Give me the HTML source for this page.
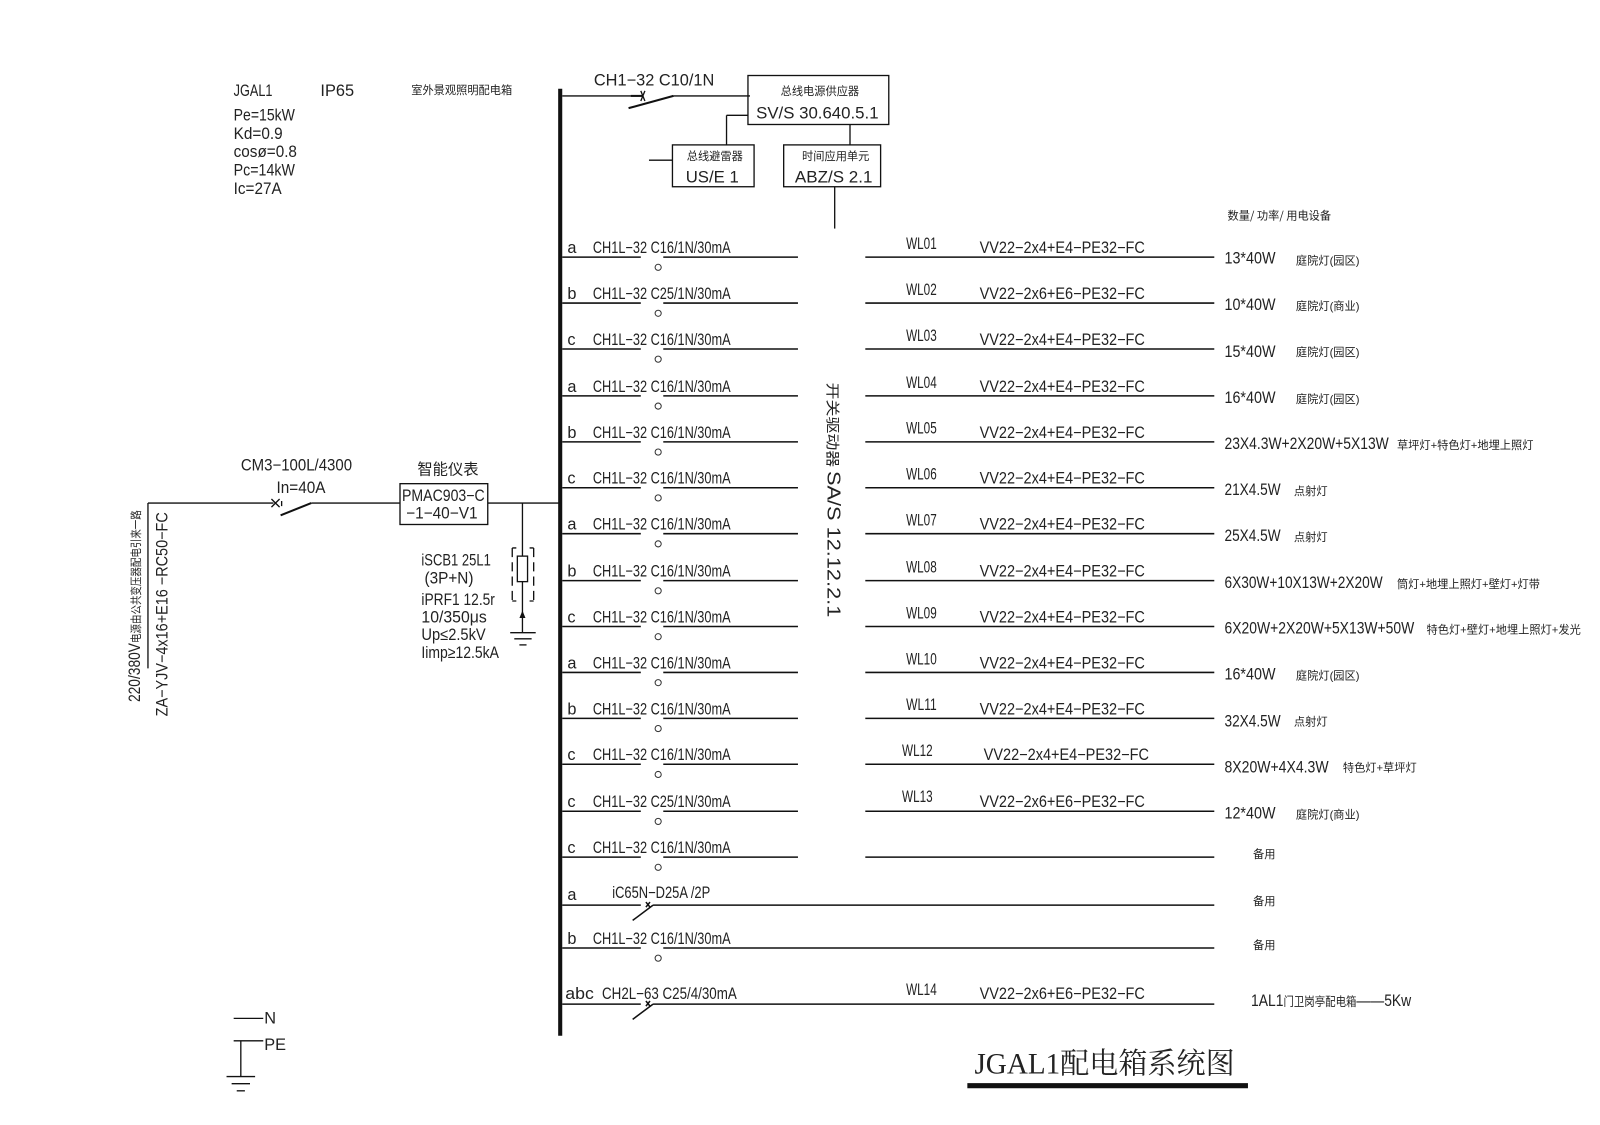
<!DOCTYPE html>
<html><head><meta charset="utf-8"><style>
html,body{margin:0;padding:0;background:#fff;}
svg{display:block}
text{font-family:"Liberation Sans","Noto Sans CJK SC",sans-serif;fill:#222;}
.t{font-size:16px}
.s{font-size:11px;font-family:"Noto Sans CJK SC",sans-serif}
.cj{font-family:"Noto Sans CJK SC",sans-serif}
</style></head><body>
<svg width="1600" height="1125" viewBox="0 0 1568 1102.5" xmlns="http://www.w3.org/2000/svg">
<g stroke="#111" stroke-width="1.3" fill="none">
<line x1="549" y1="87" x2="549" y2="1015" stroke-width="4"/>
<line x1="551" y1="94" x2="618" y2="94"/>
<line x1="618" y1="94" x2="630" y2="94" stroke-width="2"/>
<line x1="628" y1="89" x2="632" y2="99" /><line x1="628" y1="99" x2="632" y2="89"/>
<line x1="616" y1="106" x2="660" y2="94" stroke-width="2"/>
<line x1="660" y1="94" x2="735" y2="94"/>
<rect x="733" y="74" width="138" height="48"/>
<line x1="712" y1="113" x2="733" y2="113"/>
<line x1="712" y1="113" x2="712" y2="142"/>
<rect x="659" y="142" width="80" height="41"/>
<line x1="636" y1="157" x2="659" y2="157"/>
<line x1="833" y1="122" x2="833" y2="142"/>
<rect x="768" y="142" width="95" height="41"/>
<line x1="818" y1="183" x2="818" y2="224"/>
<line x1="145" y1="493" x2="145" y2="655"/>
<line x1="145" y1="493" x2="268" y2="493"/>
<line x1="266" y1="489" x2="274" y2="497"/><line x1="266" y1="497" x2="274" y2="489"/>
<line x1="276" y1="491" x2="276" y2="496"/>
<line x1="275" y1="505" x2="305" y2="493" stroke-width="2"/>
<line x1="305" y1="493" x2="392" y2="493"/>
<rect x="392" y="474" width="86" height="40"/>
<line x1="478" y1="493" x2="549" y2="493"/>
<line x1="512" y1="493" x2="512" y2="620"/>
<rect x="507" y="545" width="10" height="25" fill="#fff"/>
<path d="M510 605 L512 600 L514 605 Z" fill="#111"/>
<path d="M502 537 v52 M523 537 v52" stroke-dasharray="9,5"/>
<path d="M502 537 h4 M519 537 h4 M502 589 h4 M519 589 h4"/>
<line x1="500" y1="620" x2="525" y2="620"/><line x1="504" y1="626" x2="521" y2="626"/><line x1="509" y1="632" x2="516" y2="632"/>
<line x1="229" y1="998" x2="258" y2="998"/>
<line x1="229" y1="1020" x2="258" y2="1020"/>
<line x1="236" y1="1020" x2="236" y2="1055"/>
<line x1="222" y1="1055" x2="250" y2="1055"/><line x1="227" y1="1062" x2="245" y2="1062"/><line x1="232" y1="1069" x2="240" y2="1069"/>
<line x1="948" y1="1064" x2="1223" y2="1064" stroke-width="5"/>
</g>
<g stroke="#111" stroke-width="1.5" fill="none">
<path d="M551 252H628M650 252H782M848 252H1190"/>
<path d="M551 297H628M650 297H782M848 297H1190"/>
<path d="M551 342H628M650 342H782M848 342H1190"/>
<path d="M551 388H628M650 388H782M848 388H1190"/>
<path d="M551 433H628M650 433H782M848 433H1190"/>
<path d="M551 478H628M650 478H782M848 478H1190"/>
<path d="M551 523H628M650 523H782M848 523H1190"/>
<path d="M551 569H628M650 569H782M848 569H1190"/>
<path d="M551 614H628M650 614H782M848 614H1190"/>
<path d="M551 659H628M650 659H782M848 659H1190"/>
<path d="M551 704H628M650 704H782M848 704H1190"/>
<path d="M551 749H628M650 749H782M848 749H1190"/>
<path d="M551 795H628M650 795H782M848 795H1190"/>
<path d="M551 840H628M650 840H782M848 840H1190"/>
<path d="M551 887H628M640 887H1190M620 902L640 887"/>
<path d="M551 929H628M650 929H1190"/>
<path d="M551 984H628M640 984H1190M620 999L640 984"/>
<path d="M633 884l4 5M637 884l-4 5M633 981l4 5M637 981l-4 5"/>
</g>
<g fill="none" stroke="#333" stroke-width="1">
<circle cx="645" cy="262" r="3"/><circle cx="645" cy="307" r="3"/><circle cx="645" cy="352" r="3"/><circle cx="645" cy="398" r="3"/><circle cx="645" cy="443" r="3"/><circle cx="645" cy="488" r="3"/><circle cx="645" cy="533" r="3"/><circle cx="645" cy="579" r="3"/><circle cx="645" cy="624" r="3"/><circle cx="645" cy="669" r="3"/><circle cx="645" cy="714" r="3"/><circle cx="645" cy="759" r="3"/><circle cx="645" cy="805" r="3"/><circle cx="645" cy="850" r="3"/><circle cx="645" cy="939" r="3"/>
</g>
<text x="229" y="94" class="t" textLength="38" lengthAdjust="spacingAndGlyphs">JGAL1</text>
<text x="314" y="94" class="t" textLength="33" lengthAdjust="spacingAndGlyphs">IP65</text>
<text x="403" y="92" class="s" font-size="12">室外景观照明配电箱</text>
<g lengthAdjust="spacingAndGlyphs">
<text x="229" y="118" class="t" textLength="60" lengthAdjust="spacingAndGlyphs">Pe=15kW</text>
<text x="229" y="136" class="t" textLength="48" lengthAdjust="spacingAndGlyphs">Kd=0.9</text>
<text x="229" y="154" class="t" textLength="62" lengthAdjust="spacingAndGlyphs">cosø=0.8</text>
<text x="229" y="172" class="t" textLength="60" lengthAdjust="spacingAndGlyphs">Pc=14kW</text>
<text x="229" y="190" class="t" textLength="47" lengthAdjust="spacingAndGlyphs">Ic=27A</text>
</g>
<text x="582" y="84" class="t" font-size="17" textLength="118" lengthAdjust="spacingAndGlyphs">CH1−32 C10/1N</text>
<text x="765" y="93" class="s">总线电源供应器</text>
<text x="741" y="116" class="t" font-size="18" textLength="120" lengthAdjust="spacingAndGlyphs">SV/S 30.640.5.1</text>
<text x="673" y="157" class="s">总线避雷器</text>
<text x="672" y="179" class="t" font-size="18" textLength="52" lengthAdjust="spacingAndGlyphs">US/E 1</text>
<text x="786" y="157" class="s">时间应用单元</text>
<text x="779" y="179" class="t" font-size="18" textLength="76" lengthAdjust="spacingAndGlyphs">ABZ/S 2.1</text>
<text x="1203" y="215" class="s">数量/ 功率/  用电设备</text>
<text x="236" y="461" class="t" textLength="109" lengthAdjust="spacingAndGlyphs">CM3−100L/4300</text>
<text x="271" y="483" class="t" textLength="48" lengthAdjust="spacingAndGlyphs">In=40A</text>
<text x="409" y="465" class="cj" font-size="15">智能仪表</text>
<text x="394" y="491" class="t" textLength="81" lengthAdjust="spacingAndGlyphs">PMAC903−C</text>
<text x="398" y="508" class="t" textLength="70" lengthAdjust="spacingAndGlyphs">−1−40−V1</text>
<text x="413" y="554" class="t" textLength="68" lengthAdjust="spacingAndGlyphs">iSCB1 25L1</text>
<text x="416" y="572" class="t" textLength="48" lengthAdjust="spacingAndGlyphs">(3P+N)</text>
<text x="413" y="593" class="t" textLength="72" lengthAdjust="spacingAndGlyphs">iPRF1 12.5r</text>
<text x="413" y="610" class="t" textLength="64" lengthAdjust="spacingAndGlyphs">10/350μs</text>
<text x="413" y="627" class="t" textLength="63" lengthAdjust="spacingAndGlyphs">Up≤2.5kV</text>
<text x="413" y="645" class="t" textLength="76" lengthAdjust="spacingAndGlyphs">Iimp≥12.5kA</text>
<text transform="translate(137,688) rotate(-90)" class="t" font-size="16" textLength="188" lengthAdjust="spacingAndGlyphs">220/380V<tspan class="cj" font-size="11">电源由公共变压器配电引来一路</tspan></text>
<text transform="translate(164,702) rotate(-90)" class="t" font-size="16" textLength="200" lengthAdjust="spacingAndGlyphs">ZA−YJV−4x16+E16 −RC50−FC</text>
<text transform="translate(811,375) rotate(90)" font-size="18" textLength="230" lengthAdjust="spacingAndGlyphs"><tspan class="cj" font-size="14">开关驱动器 </tspan>SA/S 12.12.2.1</text>
<text x="259" y="1003" class="t" font-size="14">N</text>
<text x="259" y="1029" class="t" font-size="14">PE</text>
<text x="955" y="1052" font-size="29" textLength="255" lengthAdjust="spacingAndGlyphs" style="font-family:'Liberation Serif','Noto Serif CJK SC',serif">JGAL1配电箱系统图</text>
<g class="t" font-size="15">
<text x="556" y="248">a</text><text x="581" y="248" textLength="135" lengthAdjust="spacingAndGlyphs">CH1L−32 C16/1N/30mA</text>
<text x="556" y="293">b</text><text x="581" y="293" textLength="135" lengthAdjust="spacingAndGlyphs">CH1L−32 C25/1N/30mA</text>
<text x="556" y="338">c</text><text x="581" y="338" textLength="135" lengthAdjust="spacingAndGlyphs">CH1L−32 C16/1N/30mA</text>
<text x="556" y="384">a</text><text x="581" y="384" textLength="135" lengthAdjust="spacingAndGlyphs">CH1L−32 C16/1N/30mA</text>
<text x="556" y="429">b</text><text x="581" y="429" textLength="135" lengthAdjust="spacingAndGlyphs">CH1L−32 C16/1N/30mA</text>
<text x="556" y="474">c</text><text x="581" y="474" textLength="135" lengthAdjust="spacingAndGlyphs">CH1L−32 C16/1N/30mA</text>
<text x="556" y="519">a</text><text x="581" y="519" textLength="135" lengthAdjust="spacingAndGlyphs">CH1L−32 C16/1N/30mA</text>
<text x="556" y="565">b</text><text x="581" y="565" textLength="135" lengthAdjust="spacingAndGlyphs">CH1L−32 C16/1N/30mA</text>
<text x="556" y="610">c</text><text x="581" y="610" textLength="135" lengthAdjust="spacingAndGlyphs">CH1L−32 C16/1N/30mA</text>
<text x="556" y="655">a</text><text x="581" y="655" textLength="135" lengthAdjust="spacingAndGlyphs">CH1L−32 C16/1N/30mA</text>
<text x="556" y="700">b</text><text x="581" y="700" textLength="135" lengthAdjust="spacingAndGlyphs">CH1L−32 C16/1N/30mA</text>
<text x="556" y="745">c</text><text x="581" y="745" textLength="135" lengthAdjust="spacingAndGlyphs">CH1L−32 C16/1N/30mA</text>
<text x="556" y="791">c</text><text x="581" y="791" textLength="135" lengthAdjust="spacingAndGlyphs">CH1L−32 C25/1N/30mA</text>
<text x="556" y="836">c</text><text x="581" y="836" textLength="135" lengthAdjust="spacingAndGlyphs">CH1L−32 C16/1N/30mA</text>
<text x="556" y="882">a</text><text x="600" y="880" textLength="96" lengthAdjust="spacingAndGlyphs">iC65N−D25A /2P</text>
<text x="556" y="925">b</text><text x="581" y="925" textLength="135" lengthAdjust="spacingAndGlyphs">CH1L−32 C16/1N/30mA</text>
<text x="554" y="979" textLength="28" lengthAdjust="spacingAndGlyphs">abc</text><text x="590" y="979" textLength="132" lengthAdjust="spacingAndGlyphs">CH2L−63 C25/4/30mA</text>
<text x="888" y="244" textLength="30" lengthAdjust="spacingAndGlyphs">WL01</text><text x="960" y="248" textLength="162" lengthAdjust="spacingAndGlyphs">VV22−2x4+E4−PE32−FC</text>
<text x="888" y="289" textLength="30" lengthAdjust="spacingAndGlyphs">WL02</text><text x="960" y="293" textLength="162" lengthAdjust="spacingAndGlyphs">VV22−2x6+E6−PE32−FC</text>
<text x="888" y="334" textLength="30" lengthAdjust="spacingAndGlyphs">WL03</text><text x="960" y="338" textLength="162" lengthAdjust="spacingAndGlyphs">VV22−2x4+E4−PE32−FC</text>
<text x="888" y="380" textLength="30" lengthAdjust="spacingAndGlyphs">WL04</text><text x="960" y="384" textLength="162" lengthAdjust="spacingAndGlyphs">VV22−2x4+E4−PE32−FC</text>
<text x="888" y="425" textLength="30" lengthAdjust="spacingAndGlyphs">WL05</text><text x="960" y="429" textLength="162" lengthAdjust="spacingAndGlyphs">VV22−2x4+E4−PE32−FC</text>
<text x="888" y="470" textLength="30" lengthAdjust="spacingAndGlyphs">WL06</text><text x="960" y="474" textLength="162" lengthAdjust="spacingAndGlyphs">VV22−2x4+E4−PE32−FC</text>
<text x="888" y="515" textLength="30" lengthAdjust="spacingAndGlyphs">WL07</text><text x="960" y="519" textLength="162" lengthAdjust="spacingAndGlyphs">VV22−2x4+E4−PE32−FC</text>
<text x="888" y="561" textLength="30" lengthAdjust="spacingAndGlyphs">WL08</text><text x="960" y="565" textLength="162" lengthAdjust="spacingAndGlyphs">VV22−2x4+E4−PE32−FC</text>
<text x="888" y="606" textLength="30" lengthAdjust="spacingAndGlyphs">WL09</text><text x="960" y="610" textLength="162" lengthAdjust="spacingAndGlyphs">VV22−2x4+E4−PE32−FC</text>
<text x="888" y="651" textLength="30" lengthAdjust="spacingAndGlyphs">WL10</text><text x="960" y="655" textLength="162" lengthAdjust="spacingAndGlyphs">VV22−2x4+E4−PE32−FC</text>
<text x="888" y="696" textLength="30" lengthAdjust="spacingAndGlyphs">WL11</text><text x="960" y="700" textLength="162" lengthAdjust="spacingAndGlyphs">VV22−2x4+E4−PE32−FC</text>
<text x="884" y="741" textLength="30" lengthAdjust="spacingAndGlyphs">WL12</text><text x="964" y="745" textLength="162" lengthAdjust="spacingAndGlyphs">VV22−2x4+E4−PE32−FC</text>
<text x="884" y="786" textLength="30" lengthAdjust="spacingAndGlyphs">WL13</text><text x="960" y="791" textLength="162" lengthAdjust="spacingAndGlyphs">VV22−2x6+E6−PE32−FC</text>
<text x="888" y="975" textLength="30" lengthAdjust="spacingAndGlyphs">WL14</text><text x="960" y="979" textLength="162" lengthAdjust="spacingAndGlyphs">VV22−2x6+E6−PE32−FC</text>
<text x="1200" y="258" textLength="50" lengthAdjust="spacingAndGlyphs">13*40W</text>
<text x="1200" y="304" textLength="50" lengthAdjust="spacingAndGlyphs">10*40W</text>
<text x="1200" y="350" textLength="50" lengthAdjust="spacingAndGlyphs">15*40W</text>
<text x="1200" y="395" textLength="50" lengthAdjust="spacingAndGlyphs">16*40W</text>
<text x="1200" y="440" textLength="161" lengthAdjust="spacingAndGlyphs">23X4.3W+2X20W+5X13W</text>
<text x="1200" y="485" textLength="55" lengthAdjust="spacingAndGlyphs">21X4.5W</text>
<text x="1200" y="530" textLength="55" lengthAdjust="spacingAndGlyphs">25X4.5W</text>
<text x="1200" y="576" textLength="155" lengthAdjust="spacingAndGlyphs">6X30W+10X13W+2X20W</text>
<text x="1200" y="621" textLength="186" lengthAdjust="spacingAndGlyphs">6X20W+2X20W+5X13W+50W</text>
<text x="1200" y="666" textLength="50" lengthAdjust="spacingAndGlyphs">16*40W</text>
<text x="1200" y="712" textLength="55" lengthAdjust="spacingAndGlyphs">32X4.5W</text>
<text x="1200" y="757" textLength="102" lengthAdjust="spacingAndGlyphs">8X20W+4X4.3W</text>
<text x="1200" y="802" textLength="50" lengthAdjust="spacingAndGlyphs">12*40W</text>
<text x="1226" y="986" textLength="157" lengthAdjust="spacingAndGlyphs">1AL1<tspan class="cj" font-size="12">门卫岗亭配电箱</tspan>——5Kw</text>
</g>
<g class="s">
<text x="1270" y="259">庭院灯(园区)</text>
<text x="1270" y="304">庭院灯(商业)</text>
<text x="1270" y="349">庭院灯(园区)</text>
<text x="1270" y="395">庭院灯(园区)</text>
<text x="1369" y="440">草坪灯+特色灯+地埋上照灯</text>
<text x="1268" y="485">点射灯</text>
<text x="1268" y="530">点射灯</text>
<text x="1369" y="576">筒灯+地埋上照灯+壁灯+灯带</text>
<text x="1398" y="621">特色灯+壁灯+地埋上照灯+发光</text>
<text x="1270" y="666">庭院灯(园区)</text>
<text x="1268" y="711">点射灯</text>
<text x="1316" y="756">特色灯+草坪灯</text>
<text x="1270" y="802">庭院灯(商业)</text>
<text x="1228" y="841">备用</text>
<text x="1228" y="887">备用</text>
<text x="1228" y="930">备用</text>
</g>
</svg>
</body></html>
